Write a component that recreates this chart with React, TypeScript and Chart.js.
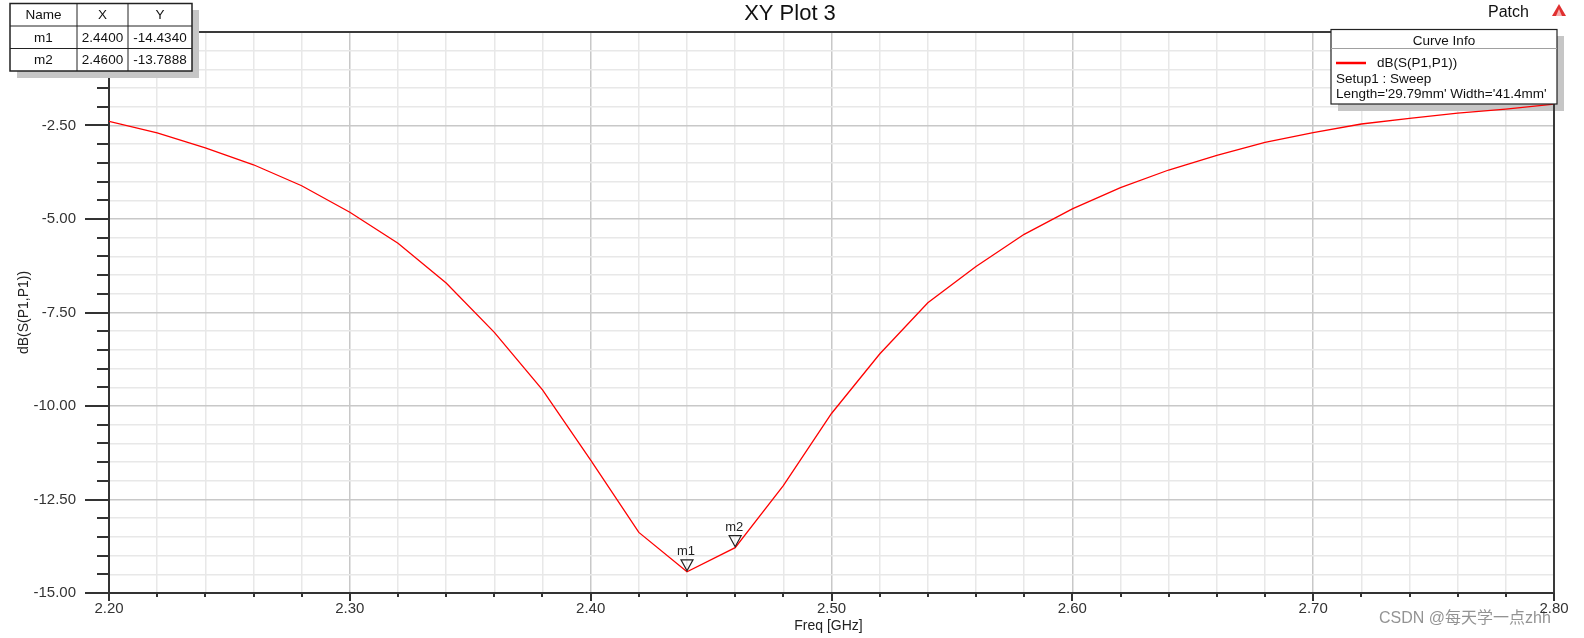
import React, { useEffect, useRef } from "react";
import { Chart, registerables } from "chart.js";
Chart.register(...registerables);

// ---------- data ----------
const freqGHz = [
  2.2, 2.22, 2.24, 2.26, 2.28, 2.3, 2.32, 2.34, 2.36, 2.38, 2.4,
  2.42, 2.44, 2.46, 2.48, 2.5, 2.52, 2.54, 2.56, 2.58, 2.6,
  2.62, 2.64, 2.66, 2.68, 2.7, 2.72, 2.74, 2.76, 2.78, 2.8,
];
const s11dB = [
  -2.39, -2.7, -3.1, -3.55, -4.11, -4.82, -5.65, -6.71, -8.03, -9.57, -11.45,
  -13.38, -14.434, -13.7888, -12.13, -10.2, -8.61, -7.24, -6.27, -5.41, -4.73,
  -4.16, -3.69, -3.3, -2.95, -2.69, -2.46, -2.31, -2.17, -2.06, -1.93,
];
const markerNames = ["m1", "m2"];
const markerFreq = [2.44, 2.46];
const markerDb = [-14.434, -13.7888];
const markerXText = ["2.4400", "2.4600"];
const markerYText = ["-14.4340", "-13.7888"];
const tableHeaders = ["Name", "X", "Y"];
const legendLines = ["dB(S(P1,P1))", "Setup1 : Sweep", "Length='29.79mm' Width='41.4mm'"];
const titleText = "XY Plot 3";
const projectText = "Patch";
const xTitle = "Freq [GHz]";
const yTitle = "dB(S(P1,P1))";
const watermark = "CSDN @每天学一点zhh";

const xMin = 2.2, xMax = 2.8, xMajor = 0.1, xMinor = 0.02;
const yMin = -15, yMax = 0, yMajor = 2.5, yMinor = 0.5;

const FONT = '"Liberation Sans", Arial, sans-serif';
const isMajor = (v: number, step: number) => Math.abs(v / step - Math.round(v / step)) < 1e-6;

const decor = {
  id: "decor",
  beforeDraw(chart: any) {
    const { ctx } = chart;
    ctx.save();
    ctx.font = '16px "Liberation Sans", "Noto Sans CJK SC", sans-serif';
    ctx.fillStyle = "rgba(120,120,120,0.8)";
    ctx.textBaseline = "middle";
    ctx.textAlign = "left";
    ctx.fillText(watermark, 1379, 619);
    ctx.restore();
  },
  beforeDatasetsDraw(chart: any) {
    const { ctx } = chart;
    ctx.save();
    ctx.fillStyle = "#c6c6c6";
    ctx.fillRect(1338, 36, 226, 75);
    ctx.restore();
  },
  afterDatasetsDraw(chart: any) {
    const { ctx, scales } = chart;
    const xs = scales.x, ys = scales.y;
    ctx.save();
    ctx.strokeStyle = "#222";
    ctx.lineWidth = 1.2;
    ctx.fillStyle = "#222";
    ctx.font = `13px ${FONT}`;
    ctx.textAlign = "center";
    ctx.textBaseline = "middle";
    for (let i = 0; i < markerNames.length; i++) {
      const px = xs.getPixelForValue(markerFreq[i]);
      const py = ys.getPixelForValue(markerDb[i]);
      ctx.beginPath();
      ctx.moveTo(px, py - 1);
      ctx.lineTo(px - 6, py - 12);
      ctx.lineTo(px + 6, py - 12);
      ctx.closePath();
      ctx.stroke();
      ctx.fillText(markerNames[i], px - 1, py - 20);
    }
    ctx.restore();
  },
  afterDraw(chart: any) {
    const { ctx, chartArea: a, scales } = chart;
    const xs = scales.x, ys = scales.y;
    ctx.save();
    ctx.strokeStyle = "#3a3a3a";
    ctx.lineWidth = 2;
    ctx.beginPath();
    ctx.moveTo(a.left, a.top);
    ctx.lineTo(a.right, a.top);
    ctx.lineTo(a.right, a.bottom);
    ctx.stroke();
    ctx.strokeStyle = "#333";
    ctx.lineWidth = 2;
    ctx.beginPath();
    ys.ticks.forEach((t: any) => {
      const py = Math.round(ys.getPixelForValue(t.value));
      const len = isMajor(t.value, yMajor) ? 24 : 12;
      ctx.moveTo(a.left - len, py);
      ctx.lineTo(a.left, py);
    });
    xs.ticks.forEach((t: any) => {
      const px = Math.round(xs.getPixelForValue(t.value));
      const len = isMajor(t.value, xMajor) ? 8 : 4;
      ctx.moveTo(px, a.bottom);
      ctx.lineTo(px, a.bottom + len);
    });
    ctx.stroke();

    ctx.fillStyle = "#111";
    ctx.textBaseline = "middle";
    ctx.textAlign = "center";
    ctx.font = `22px ${FONT}`;
    ctx.fillText(titleText, 790, 14);
    ctx.font = `16px ${FONT}`;
    ctx.textAlign = "left";
    ctx.fillText(projectText, 1488, 13);
    ctx.fillStyle = "#e03030";
    ctx.beginPath();
    ctx.moveTo(1559, 4); ctx.lineTo(1566, 16); ctx.lineTo(1552, 16); ctx.closePath();
    ctx.fill();
    ctx.fillStyle = "#f6b0b0";
    ctx.beginPath();
    ctx.moveTo(1559, 9); ctx.lineTo(1562, 16); ctx.lineTo(1556, 16); ctx.closePath();
    ctx.fill();

    ctx.fillStyle = "#222";
    ctx.font = `14px ${FONT}`;
    ctx.textAlign = "center";
    ctx.fillText(xTitle, (a.left + a.right) / 2 - 3, 626);
    ctx.save();
    ctx.translate(24, (a.top + a.bottom) / 2);
    ctx.rotate(-Math.PI / 2);
    ctx.fillText(yTitle, 0, 0);
    ctx.restore();

    ctx.fillStyle = "#c6c6c6";
    ctx.fillRect(17, 10, 182, 68);
    ctx.fillStyle = "#fff";
    ctx.fillRect(10, 3.5, 182, 67.5);
    ctx.strokeStyle = "#222";
    ctx.lineWidth = 1.5;
    ctx.strokeRect(10, 3.5, 182, 67.5);
    ctx.lineWidth = 1;
    ctx.beginPath();
    ctx.moveTo(77, 3.5); ctx.lineTo(77, 71);
    ctx.moveTo(128, 3.5); ctx.lineTo(128, 71);
    ctx.moveTo(10, 26); ctx.lineTo(192, 26);
    ctx.moveTo(10, 48.5); ctx.lineTo(192, 48.5);
    ctx.stroke();
    ctx.fillStyle = "#111";
    ctx.font = `13.5px ${FONT}`;
    ctx.textAlign = "center";
    const colC = [43.5, 102.5, 160];
    const rowC = [15, 38, 60];
    tableHeaders.forEach((h, i) => ctx.fillText(h, colC[i], rowC[0]));
    for (let i = 0; i < markerNames.length; i++) {
      ctx.fillText(markerNames[i], colC[0], rowC[i + 1]);
      ctx.fillText(markerXText[i], colC[1], rowC[i + 1]);
      ctx.fillText(markerYText[i], colC[2], rowC[i + 1]);
    }

    ctx.fillStyle = "#fff";
    ctx.fillRect(1331, 29.5, 226, 74.5);
    ctx.strokeStyle = "#222";
    ctx.lineWidth = 1.2;
    ctx.strokeRect(1331, 29.5, 226, 74.5);
    ctx.strokeStyle = "#a0a0a0";
    ctx.lineWidth = 1;
    ctx.beginPath();
    ctx.moveTo(1331, 48.5); ctx.lineTo(1557, 48.5);
    ctx.stroke();
    ctx.fillStyle = "#111";
    ctx.font = `13.5px ${FONT}`;
    ctx.textAlign = "center";
    ctx.fillText("Curve Info", 1444, 41);
    ctx.strokeStyle = "#ff0000";
    ctx.lineWidth = 2.5;
    ctx.beginPath();
    ctx.moveTo(1336, 63); ctx.lineTo(1366, 63);
    ctx.stroke();
    ctx.textAlign = "left";
    ctx.fillText(legendLines[0], 1377, 63);
    ctx.fillText(legendLines[1], 1336, 79);
    ctx.fillText(legendLines[2], 1336, 94.5);
    ctx.restore();
  },
};

const zeroPad = (s: any) => {
  s.paddingTop = 0;
  s.paddingBottom = 0;
  s.paddingLeft = 0;
  s.paddingRight = 0;
};

export default function App() {
  const ref = useRef<HTMLCanvasElement>(null);
  useEffect(() => {
    if (!ref.current) return;
    const points = freqGHz.map((f, i) => ({ x: f, y: s11dB[i] }));
    const chart = new Chart(ref.current, {
      type: "line",
      data: {
        datasets: [
          {
            label: "dB(S(P1,P1))",
            data: points,
            borderColor: "#ff0000",
            borderWidth: 1.3,
            pointRadius: 0,
            tension: 0,
            fill: false,
          },
        ],
      },
      options: {
        responsive: false,
        animation: false,
        layout: { padding: { top: 32, right: 30, left: 0, bottom: 0 } },
        plugins: { legend: { display: false }, tooltip: { enabled: false }, title: { display: false } },
        scales: {
          x: {
            type: "linear",
            min: xMin,
            max: xMax,
            afterFit: (s: any) => { s.height = 45; zeroPad(s); },
            border: { display: true, color: "#333", width: 2 },
            grid: {
              drawTicks: false,
              color: (c: any) => (isMajor(c.tick.value, xMajor) ? "#c8c8c8" : "#e8e8e8"),
              lineWidth: 1.5,
            },
            ticks: {
              stepSize: xMinor,
              autoSkip: false,
              maxRotation: 0,
              padding: 7,
              color: "#333",
              font: { family: FONT, size: 15 },
              callback: (v: any) => (isMajor(Number(v), xMajor) ? Number(v).toFixed(2) : ""),
            },
          },
          y: {
            type: "linear",
            min: yMin,
            max: yMax,
            afterFit: (s: any) => { s.width = 109; zeroPad(s); },
            border: { display: true, color: "#333", width: 2 },
            grid: {
              drawTicks: false,
              color: (c: any) => (isMajor(c.tick.value, yMajor) ? "#c8c8c8" : "#e8e8e8"),
              lineWidth: 1.5,
            },
            ticks: {
              stepSize: yMinor,
              autoSkip: false,
              padding: 33,
              color: "#333",
              font: { family: FONT, size: 15 },
              callback: (v: any) => (isMajor(Number(v), yMajor) ? Number(v).toFixed(2) : ""),
            },
          },
        },
      },
      plugins: [decor],
    });
    return () => chart.destroy();
  }, []);
  return (
    <div style={{ position: "fixed", left: 0, top: 0, width: 1584, height: 638, background: "#fff" }}>
      <canvas ref={ref} width={1584} height={638} style={{ display: "block" }} />
    </div>
  );
}
